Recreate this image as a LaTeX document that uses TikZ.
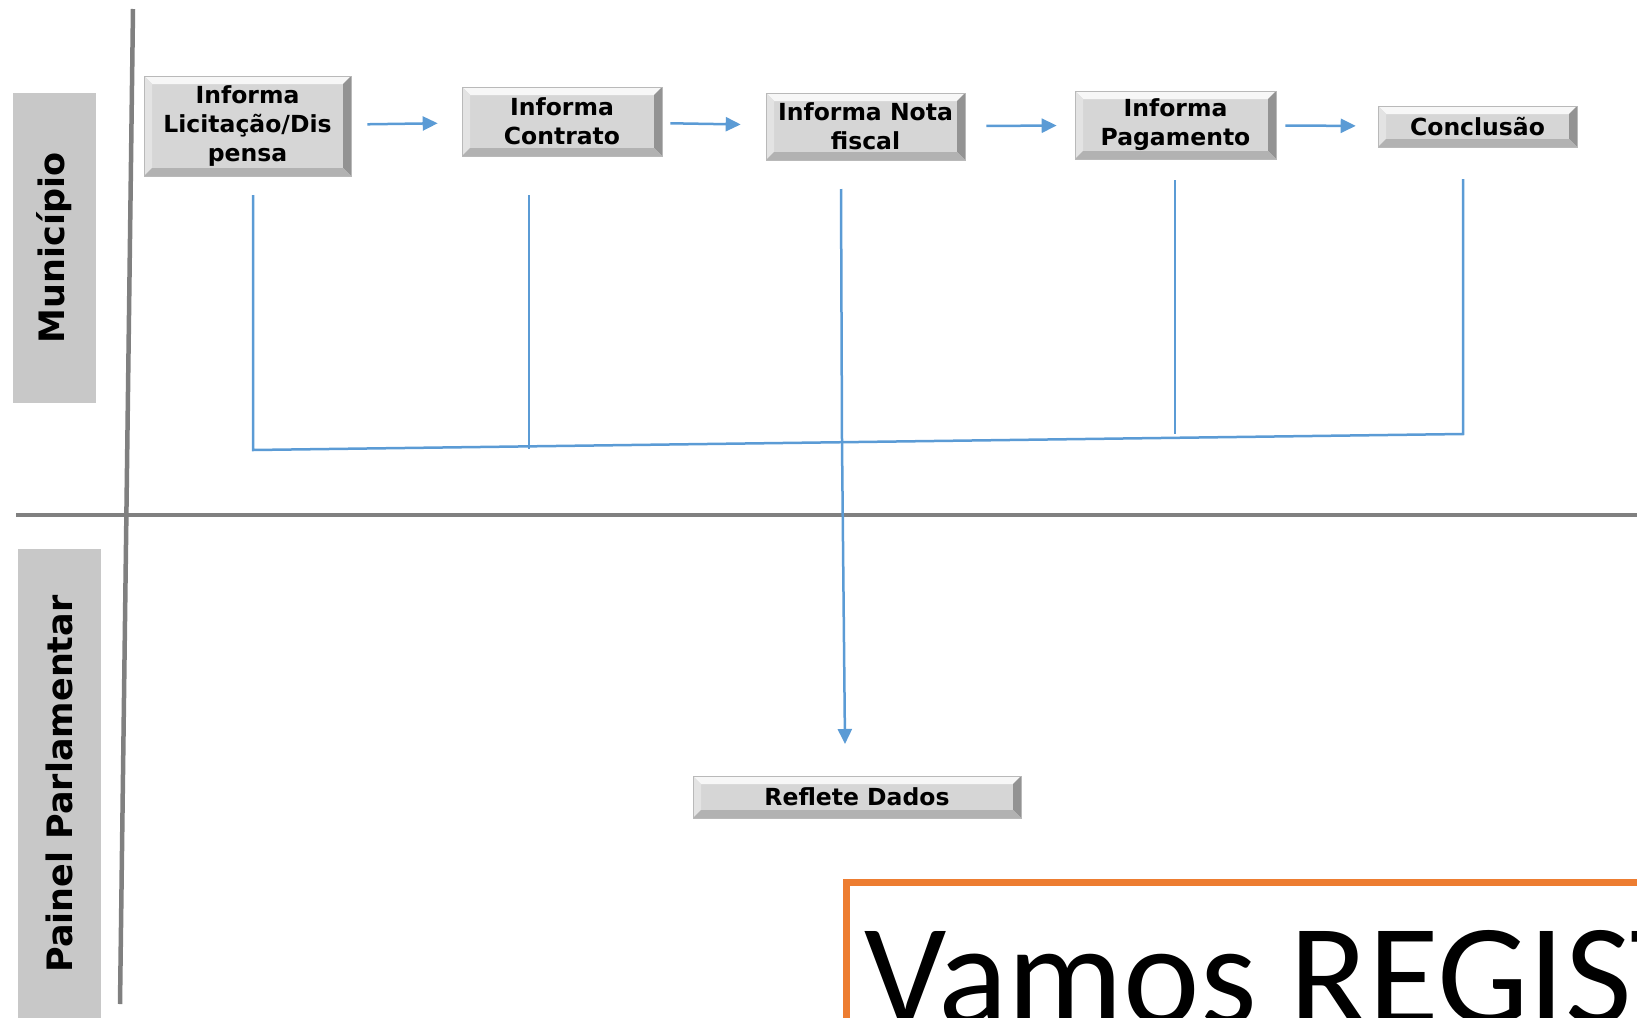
\documentclass[tikz,border=0pt]{standalone}
\usepackage{fontspec}
\setmainfont{DejaVu Sans}
\newfontfamily\calibrifont{Carlito}
\usetikzlibrary{arrows.meta}
\definecolor{fluxo}{HTML}{5B9BD5}
\definecolor{laranja}{HTML}{ED7D31}
\definecolor{faixa}{HTML}{C8C8C8}
\definecolor{face}{HTML}{D6D6D6}

\tikzset{
  etapa/.style={draw=gray!55, line width=0.6pt, fill=face, inner sep=0pt, align=center,
    font=\bfseries\fontsize{23.5}{29}\selectfont,
    path picture={
      \fill[gray!6] (path picture bounding box.north west) -- (path picture bounding box.north east)
        -- ([shift={(-8pt,-8pt)}]path picture bounding box.north east) -- ([shift={(8pt,-8pt)}]path picture bounding box.north west) -- cycle;
      \fill[gray!22] (path picture bounding box.north west) -- ([shift={(8pt,-8pt)}]path picture bounding box.north west)
        -- ([shift={(8pt,8pt)}]path picture bounding box.south west) -- (path picture bounding box.south west) -- cycle;
      \fill[gray!85] (path picture bounding box.north east) -- ([shift={(-8pt,-8pt)}]path picture bounding box.north east)
        -- ([shift={(-8pt,8pt)}]path picture bounding box.south east) -- (path picture bounding box.south east) -- cycle;
      \fill[gray!60] (path picture bounding box.south west) -- ([shift={(8pt,8pt)}]path picture bounding box.south west)
        -- ([shift={(-8pt,8pt)}]path picture bounding box.south east) -- (path picture bounding box.south east) -- cycle;
    }},
  raia/.style={fill=faixa, inner sep=0pt, rotate=90, minimum height=83pt,
    font=\bfseries\fontsize{35}{40}\selectfont},
  divisa/.style={draw=gray, line width=4.5pt},
  fluxo/.style={draw=fluxo, line width=2.5pt},
  seta/.style={fluxo, -{Triangle[length=15pt,width=14pt]}},
}

\begin{document}
\begin{tikzpicture}[x=1pt,y=-1pt]
\useasboundingbox (0,0) rectangle (1637,1017);
\clip (0,0) rectangle (1637,1017);

% raias
\draw[divisa] (133,9) -- (120,1004);
\draw[divisa] (16,515) -- (1637,515);
\node[raia, minimum width=310pt] (mun) at (54.5,248) {Município};
\node[raia, minimum width=470pt] (pp) at (59.5,784) {Painel Parlamentar};

% etapas
\node[etapa, minimum width=207pt, minimum height=100pt] (lic) at (247.5,126) {Informa\\Licitação/Dis\\pensa};
\node[etapa, minimum width=200pt, minimum height=69pt] (con) at (562,121.5) {Informa\\Contrato};
\node[etapa, minimum width=199pt, minimum height=67pt] (nota) at (865.5,126.5) {Informa Nota\\fiscal};
\node[etapa, minimum width=201pt, minimum height=68pt] (pag) at (1175.5,125) {Informa\\Pagamento};
\node[etapa, minimum width=199pt, minimum height=41pt] (conc) at (1477.5,126.5) {Conclusão};
\node[etapa, minimum width=328pt, minimum height=42pt] (ref) at (857,797) {Reflete Dados};

\draw[seta, shorten <=16pt, shorten >=24pt] (lic) -- (con);
\draw[seta, shorten <=8pt, shorten >=25pt] (con) -- (nota);
\draw[seta, shorten <=21pt, shorten >=18pt] (nota) -- (pag);
\draw[seta, shorten <=9pt, shorten >=22pt] (pag) -- (conc);

% barramento
\coordinate (t1) at (253,195);
\coordinate (t2) at (529,195);
\coordinate (t3) at (841,189);
\coordinate (t4) at (1175,180);
\coordinate (t5) at (1463,179);
\coordinate (b1) at (253,450);
\coordinate (b2) at (529,449);
\coordinate (b3) at (842,442);
\coordinate (b4) at (1175,434);
\coordinate (b5) at (1463,434);
\coordinate (d3) at (845,744);
\draw[fluxo] (t1) -- (b1) -- (b5) -- (t5);
\draw[fluxo] (t2) -- (b2);
\draw[fluxo] (t3) -- (b3);
\draw[fluxo] (t4) -- (b4);
\draw[seta] (b3) -- (d3);

% chamada
\draw[laranja, line width=7pt] (1700,882) -- (846,882) -- (846,1100);
\node[anchor=base west, inner sep=0pt, font=\calibrifont\fontsize{145}{160}\selectfont] (vamos) at (864,1024) {Vamos REGIST};
\end{tikzpicture}
\end{document}
